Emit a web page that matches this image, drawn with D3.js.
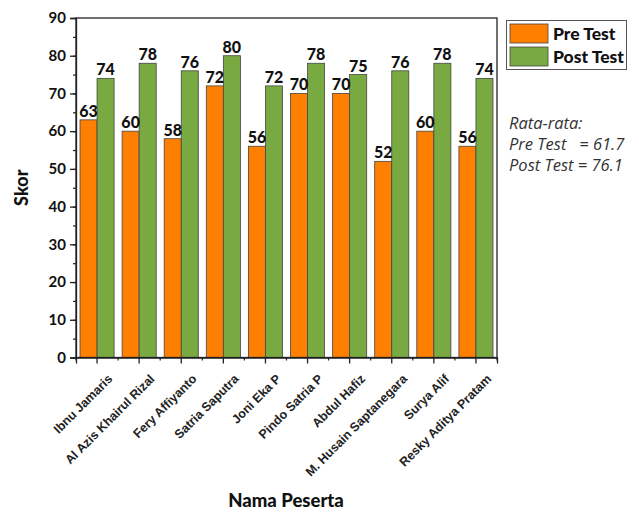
<!DOCTYPE html>
<html>
<head>
<meta charset="utf-8">
<script src="https://cdn.jsdelivr.net/npm/d3@7"></script>
<style>
  body { margin: 0; background: #fff; }
  svg { display: block; }
</style>
</head>
<body>
<div id="chart"></div>
<script>
var names = ["Ibnu Jamaris", "Al Azis Khairul Rizal", "Fery Affiyanto", "Satria Saputra", "Joni Eka P",
  "Pindo Satria P", "Abdul Hafiz", "M. Husain Saptanegara", "Surya Alif", "Resky Aditya Pratam"];
var preTest = [63, 60, 58, 72, 56, 70, 70, 52, 60, 56];
var postTest = [74, 78, 76, 80, 72, 78, 75, 76, 78, 74];
var seriesNames = ["Pre Test", "Post Test"];
var yTicks = [0, 10, 20, 30, 40, 50, 60, 70, 80, 90];
var notes = ["Rata-rata:", "Pre Test   = 61.7", "Post Test = 76.1"];

var w = 639, h = 512;
var colors = ["#ff7f00", "#79aa42"];
var plotLeft = 76, plotRight = 497, plotTop = 18, plotBottom = 357.5;

var svg = d3.select("#chart").append("svg")
  .attr("width", w)
  .attr("height", h);

var x = d3.scaleBand()
  .domain(names)
  .range([plotLeft, plotRight])
  .paddingInner(0.19)
  .paddingOuter(0.095);

var xSub = d3.scaleBand()
  .domain(seriesNames)
  .range([0, x.bandwidth()]);

var y = d3.scaleLinear()
  .domain([0, 90])
  .range([plotBottom, plotTop]);

var rows = names.map(function(n, i) { return {name: n, vals: [preTest[i], postTest[i]]}; });

// bars
var groups = svg.append("g").selectAll("g")
  .data(rows)
  .enter()
  .append("g")
  .attr("transform", function(d) { return "translate(" + x(d.name) + ",0)"; });

groups.selectAll("rect")
  .data(function(d) { return d.vals.map(function(v, j) { return {s: seriesNames[j], v: v, j: j}; }); })
  .enter()
  .append("rect")
  .attr("x", function(d) { return xSub(d.s); })
  .attr("y", function(d) { return y(d.v); })
  .attr("width", xSub.bandwidth())
  .attr("height", function(d) { return y(0) - y(d.v); })
  .attr("fill", function(d) { return colors[d.j]; })
  .attr("stroke", "#444")
  .attr("stroke-width", 0.8);

groups.selectAll("text")
  .data(function(d) { return d.vals.map(function(v, j) { return {s: seriesNames[j], v: v}; }); })
  .enter()
  .append("text")
  .attr("x", function(d) { return xSub(d.s) + xSub.bandwidth() / 2; })
  .attr("y", function(d) { return y(d.v) - 3; })
  .attr("text-anchor", "middle")
  .attr("font-family", "Lato, sans-serif")
  .attr("font-weight", "900")
  .attr("font-size", "16px")
  .attr("fill", "#111")
  .text(function(d) { return d.v; });

// frame
svg.append("rect")
  .attr("x", plotLeft)
  .attr("y", plotTop)
  .attr("width", plotRight - plotLeft)
  .attr("height", plotBottom - plotTop)
  .attr("fill", "none")
  .attr("stroke", "#222")
  .attr("stroke-width", 1.3);

// y axis
var yAxis = d3.axisLeft(y).tickValues(yTicks).tickSize(6).tickPadding(4);
var yg = svg.append("g")
  .attr("transform", "translate(" + plotLeft + ",0)")
  .call(yAxis);
yg.select(".domain").attr("stroke", "#222").attr("stroke-width", 1.3);
yg.selectAll("text")
  .attr("font-family", "Lato, sans-serif")
  .attr("font-weight", "700")
  .attr("font-size", "15px")
  .attr("fill", "#111");
yg.selectAll(".tick line").attr("stroke", "#222").attr("stroke-width", 1.3);

svg.append("g")
  .attr("transform", "translate(" + plotLeft + ",0)")
  .call(d3.axisLeft(y).ticks(18).tickSize(3).tickFormat(""))
  .call(function(g) { g.select(".domain").remove(); })
  .selectAll("line").attr("stroke", "#222").attr("stroke-width", 1.2);

// x axis
var xAxis = d3.axisBottom(x).tickSize(6).tickPadding(4);
var xg = svg.append("g")
  .attr("transform", "translate(0," + plotBottom + ")")
  .call(xAxis);
xg.select(".domain").attr("stroke", "#222").attr("stroke-width", 1.3);
xg.selectAll(".tick line").attr("stroke", "#222").attr("stroke-width", 1.3);
xg.selectAll("text")
  .attr("font-family", "'Liberation Sans', Arial, sans-serif")
  .attr("font-weight", "700")
  .attr("font-size", "12.5px")
  .attr("fill", "#222")
  .attr("text-anchor", "end")
  .attr("dy", "0.35em")
  .attr("transform", "translate(6,12) rotate(-45)");

// minor x ticks between groups
var step = x.step();
var edges = d3.range(names.length + 1).map(function(i) { return plotLeft + i * step; });
svg.append("g").selectAll("line")
  .data(edges)
  .enter()
  .append("line")
  .attr("x1", function(d) { return d; })
  .attr("x2", function(d) { return d; })
  .attr("y1", plotBottom)
  .attr("y2", plotBottom + 3)
  .attr("stroke", "#222")
  .attr("stroke-width", 1.2);

// axis titles
svg.append("text")
  .attr("transform", "translate(28," + ((plotTop + plotBottom) / 2) + ") rotate(-90)")
  .attr("text-anchor", "middle")
  .attr("font-family", "Lato, sans-serif")
  .attr("font-weight", "900")
  .attr("font-size", "18px")
  .attr("fill", "#111")
  .text("Skor");

svg.append("text")
  .attr("x", 286)
  .attr("y", 507)
  .attr("text-anchor", "middle")
  .attr("font-family", "Lato, sans-serif")
  .attr("font-weight", "900")
  .attr("font-size", "18.5px")
  .attr("fill", "#111")
  .text("Nama Peserta");

// legend
var legend = svg.append("g");
legend.append("rect")
  .attr("x", 506.5)
  .attr("y", 20.5)
  .attr("width", 120)
  .attr("height", 49)
  .attr("fill", "#fff")
  .attr("stroke", "#555")
  .attr("stroke-width", 1);

var items = legend.selectAll("g.item")
  .data(seriesNames)
  .enter()
  .append("g")
  .attr("class", "item")
  .attr("transform", function(d, i) { return "translate(510," + (24 + i * 23) + ")"; });
items.append("rect")
  .attr("width", 38)
  .attr("height", 19)
  .attr("fill", function(d, i) { return colors[i]; })
  .attr("stroke", "#444")
  .attr("stroke-width", 0.8);
items.append("text")
  .attr("x", 43)
  .attr("y", 16)
  .attr("font-family", "Lato, sans-serif")
  .attr("font-weight", "900")
  .attr("font-size", "17.5px")
  .attr("fill", "#111")
  .text(function(d) { return d; });

// averages note
svg.append("g").selectAll("text")
  .data(notes)
  .enter()
  .append("text")
  .attr("x", 509)
  .attr("y", function(d, i) { return 129 + i * 21; })
  .attr("font-family", "'Open Sans', sans-serif")
  .attr("font-style", "italic")
  .attr("font-size", "16.5px")
  .attr("fill", "#333")
  .style("white-space", "pre")
  .text(function(d) { return d; });
</script>
</body>
</html>
